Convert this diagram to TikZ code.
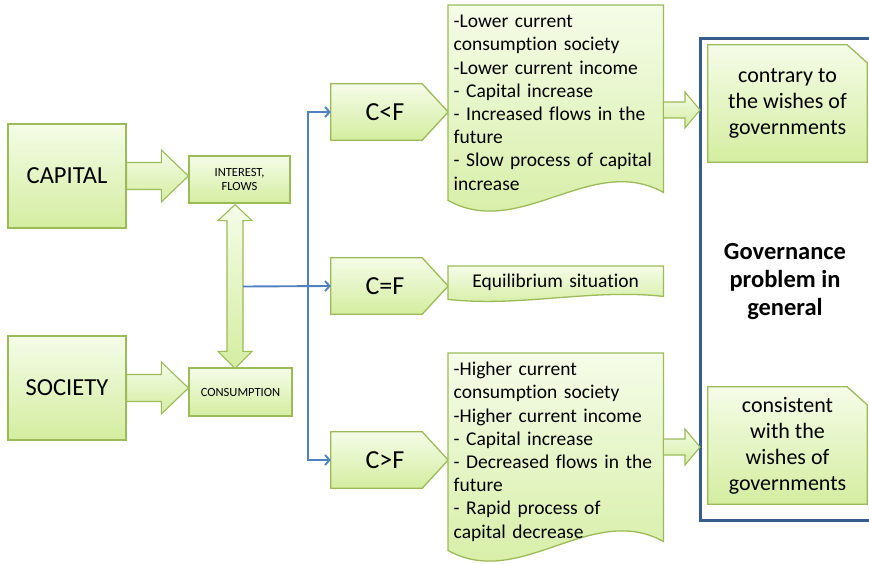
\documentclass[tikz,border=0pt]{standalone}
\usepackage{fontspec}
\setmainfont{Carlito}[Ligatures=NoCommon]
\usetikzlibrary{calc,arrows.meta,backgrounds}

\definecolor{boxline}{RGB}{155,187,89}
\definecolor{boxtop}{RGB}{245,252,232}
\definecolor{boxbot}{RGB}{212,237,160}
\definecolor{linkblue}{RGB}{79,129,189}
\definecolor{frameblue}{RGB}{56,93,138}

\tikzset{
  greenfill/.style={draw=boxline, line width=1.3pt, top color=boxtop, bottom color=boxbot},
  box/.style={greenfill, rectangle, inner sep=2pt, align=center},
  cmpbox/.style={rectangle, minimum width=117pt, minimum height=56pt, inner sep=0pt,
    font=\fontsize{26}{30}\selectfont},
  notebox/.style={rectangle, minimum width=159pt, minimum height=117pt, align=center,
    inner sep=0pt, font=\fontsize{22}{26}\selectfont},
  doctext/.style={anchor=north west, text width=204pt, align=left, inner xsep=5.5pt,
    inner ysep=9pt, font=\fontsize{19.5}{23.2}\selectfont},
  link/.style={draw=linkblue, line width=1.9pt, -{Straight Barb[length=4.5pt,width=10pt]}},
  blockarr/.style={greenfill, line width=1.1pt, line join=miter},
}

% block arrow: from, tip, shaft half width, head half width, head length
\newcommand{\harrow}[5]{%
  \path[blockarr] ($(#1)+(0,-#3)$) -- ($(#2)+(-#5,-#3)$) -- ($(#2)+(-#5,-#4)$) -- (#2)
    -- ($(#2)+(-#5,#4)$) -- ($(#2)+(-#5,#3)$) -- ($(#1)+(0,#3)$) -- cycle;}
% document outline round a text node: node, wave depth, lift of right end
\newcommand{\docline}[3]{%
  \path[greenfill] ($(#1.south east)+(0,-#3)$) -- (#1.north east) -- (#1.north west) -- (#1.south west)
    .. controls +(72,#2) and +(-72,-#2) .. ($(#1.south east)+(0,-#3)$) -- cycle;}
% note with snipped corner
\newcommand{\noteline}[1]{%
  \path[greenfill] (#1.south west) -- (#1.north west) -- ($(#1.north east)+(-20,0)$)
    -- ($(#1.north east)+(0,18)$) -- (#1.south east) -- cycle;}
% pentagon pointing right
\newcommand{\cmpline}[1]{%
  \path[greenfill] (#1.south west) -- (#1.north west) -- ($(#1.north east)+(-26,0)$)
    -- (#1.east) -- ($(#1.south east)+(-26,0)$) -- cycle;}

\begin{document}
\begin{tikzpicture}[x=1pt,y=-1pt]
  \useasboundingbox (0,0) rectangle (869,563);

  \begin{scope}[every node/.style={box}]
    \node[minimum width=118pt, minimum height=104pt, font=\fontsize{24.5}{29}\selectfont] (capital) at (67,176) {CAPITAL};
    \node[minimum width=118pt, minimum height=104pt, font=\fontsize{24.5}{29}\selectfont] (society) at (67,388) {SOCIETY};
    \node[minimum width=101pt, minimum height=47pt, font=\fontsize{12.5}{14}\selectfont] (interest) at (239.5,179.5) {INTEREST,\\FLOWS};
    \node[minimum width=103pt, minimum height=48pt, font=\fontsize{12.5}{14}\selectfont] (consumption) at (240.5,392) {CONSUMPTION};
  \end{scope}

  \node[cmpbox] (clf) at (389.5,112) {\hspace*{-9pt}C<F};
  \node[cmpbox] (cef) at (389.5,286) {\hspace*{-9pt}C=F};
  \node[cmpbox] (cgf) at (389.5,460) {\hspace*{-9pt}C>F};

  \node[doctext, minimum height=195pt] (upbox) at (448,5) {-Lower current\\consumption society\\-Lower current income\\- Capital increase\\- Increased flows in the\\future\\- Slow process of capital\\increase};
  \node[doctext, align=center, minimum height=33pt, inner ysep=0pt] (equ) at (448,266) {Equilibrium situation};
  \node[doctext, minimum height=197pt] (lowbox) at (448,353) {-Higher current\\consumption society\\-Higher current income\\- Capital increase\\- Decreased flows in the\\future\\- Rapid process of\\capital decrease};

  \node[notebox] (contrary) at (787.5,103.5) {contrary to\\the wishes of\\governments};
  \node[notebox] (consistent) at (787.5,445.5) {consistent\\with the\\wishes of\\governments};
  \node[align=center, font=\bfseries\fontsize{24.5}{28}\selectfont] (gov) at (785,282) {Governance\\problem in\\general};

  \begin{scope}[on background layer]
    \cmpline{clf}
    \cmpline{cef}
    \cmpline{cgf}
    \docline{upbox}{40}{8}
    \docline{equ}{8}{3}
    \docline{lowbox}{40}{9}
    \noteline{contrary}
    \noteline{consistent}
  \end{scope}

  \draw[frameblue, line width=3pt] (869,38) -- (700,38) -- (700,520) -- (869,520);

  \harrow{capital.east}{capital.east -| interest.west}{13.5}{26}{27}
  \harrow{society.east}{society.east -| consumption.west}{13.5}{26}{27}
  \coordinate (uptip) at (700,110);
  \coordinate (lowtip) at (700,447);
  \harrow{upbox.east |- uptip}{uptip}{8}{18}{15}
  \harrow{lowbox.east |- lowtip}{lowtip}{8}{18}{15}

  \coordinate (dtop) at ($(interest.south)+(-4.5,1)$);
  \coordinate (dbot) at ($(consumption.north)+(-5.5,1)$);
  \path[blockarr] (dtop) -- ($(dtop)+(17,16)$) -- ($(dtop)+(8,16)$) -- ($(dbot)+(8,-17)$)
    -- ($(dbot)+(17,-17)$) -- (dbot) -- ($(dbot)+(-17,-17)$) -- ($(dbot)+(-8,-17)$)
    -- ($(dtop)+(-8,16)$) -- ($(dtop)+(-17,16)$) -- cycle;

  \coordinate (dblmid) at ($(dtop)!0.5!(dbot)+(8,0)$);
  \coordinate (split) at ($(dblmid)+(65,0)$);
  \draw[link] (dblmid) -- (cef.west);
  \draw[link] (split) |- (clf.west);
  \draw[link] (split) |- (cgf.west);
\end{tikzpicture}
\end{document}
